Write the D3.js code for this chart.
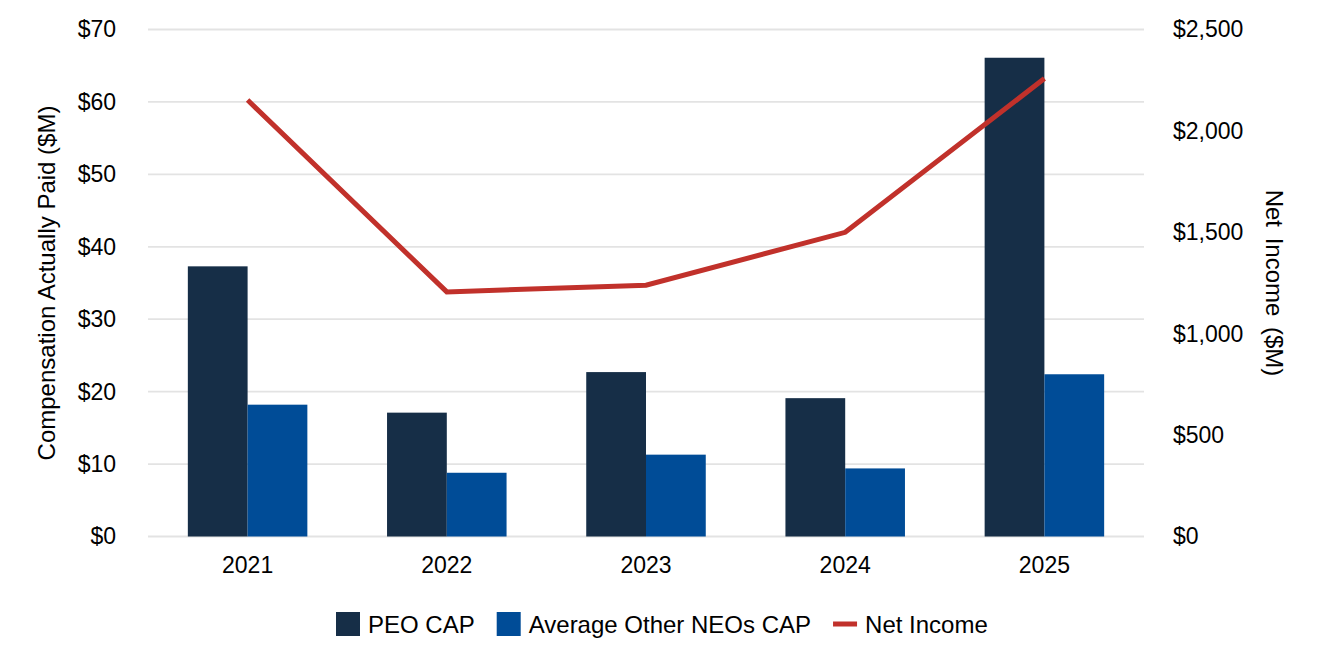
<!DOCTYPE html>
<html>
<head>
<meta charset="utf-8">
<script src="https://cdn.jsdelivr.net/npm/d3@7"></script>
<style>
  html, body { margin: 0; padding: 0; background: #fff; }
  svg text { font-family: "Liberation Sans", Arial, sans-serif; fill: #000; }
</style>
</head>
<body>
<svg id="chart" width="1324" height="672"></svg>
<script>
// ---- data ----
const years = ["2021", "2022", "2023", "2024", "2025"];
const peoCap = [37.3, 17.1, 22.7, 19.1, 66.1];
const neoCap = [18.2, 8.8, 11.3, 9.4, 22.4];
const netIncome = [2152, 1206, 1239, 1500, 2258];
const leftTicks = [0, 10, 20, 30, 40, 50, 60, 70];
const rightTicks = [0, 500, 1000, 1500, 2000, 2500];
const seriesNames = ["PEO CAP", "Average Other NEOs CAP", "Net Income"];
const seriesColors = ["#162E47", "#004C97", "#C1312B"];

// ---- layout ----
const svg = d3.select("#chart");
const plot = { left: 148, right: 1144, top: 29.5, bottom: 536.5 };
const FS = 23;

const x0 = d3.scaleBand().domain(years).range([plot.left, plot.right])
  .paddingInner(0.4).paddingOuter(0.2);
const x1 = d3.scaleBand().domain(["peo", "neo"]).range([0, x0.bandwidth()]);
const yL = d3.scaleLinear().domain([0, 70]).range([plot.bottom, plot.top]);
const yR = d3.scaleLinear().domain([0, 2500]).range([plot.bottom, plot.top]);

// gridlines
svg.append("g").selectAll("line").data(leftTicks).join("line")
  .attr("x1", plot.left).attr("x2", plot.right)
  .attr("y1", d => yL(d)).attr("y2", d => yL(d))
  .attr("stroke", "#e3e3e3").attr("stroke-width", 1.8);

// left axis
const leftAxis = svg.append("g").attr("transform", `translate(${plot.left - 32},0)`)
  .call(d3.axisLeft(yL).tickValues(leftTicks).tickFormat(d => "$" + d).tickSize(0).tickPadding(0));
leftAxis.select(".domain").remove();
leftAxis.selectAll("text").style("font-size", FS + "px").attr("fill", "#000")
  .style("font-family", '"Liberation Sans", Arial, sans-serif');

// right axis
const rightAxis = svg.append("g").attr("transform", `translate(${plot.right + 29},0)`)
  .call(d3.axisRight(yR).tickValues(rightTicks).tickFormat(d => "$" + d3.format(",")(d)).tickSize(0).tickPadding(0));
rightAxis.select(".domain").remove();
rightAxis.selectAll("text").style("font-size", FS + "px").attr("fill", "#000")
  .style("font-family", '"Liberation Sans", Arial, sans-serif');

// bottom axis
const bottomAxis = svg.append("g").attr("transform", `translate(0,${plot.bottom + 20})`)
  .call(d3.axisBottom(x0).tickSize(0).tickPadding(0));
bottomAxis.select(".domain").remove();
bottomAxis.selectAll("text").style("font-size", FS + "px").attr("fill", "#000")
  .style("font-family", '"Liberation Sans", Arial, sans-serif');

// bars
const groups = svg.append("g").selectAll("g").data(years).join("g")
  .attr("transform", d => `translate(${x0(d)},0)`);
groups.append("rect")
  .attr("x", x1("peo")).attr("width", x1.bandwidth())
  .attr("y", (d, i) => yL(peoCap[i])).attr("height", (d, i) => yL(0) - yL(peoCap[i]))
  .attr("fill", seriesColors[0]);
groups.append("rect")
  .attr("x", x1("neo")).attr("width", x1.bandwidth())
  .attr("y", (d, i) => yL(neoCap[i])).attr("height", (d, i) => yL(0) - yL(neoCap[i]))
  .attr("fill", seriesColors[1]);

// line
const line = d3.line()
  .x((d, i) => x0(years[i]) + x0.bandwidth() / 2)
  .y(d => yR(d));
svg.append("path").datum(netIncome)
  .attr("d", line).attr("fill", "none")
  .attr("stroke", seriesColors[2]).attr("stroke-width", 5)
  .attr("stroke-linejoin", "miter").attr("stroke-linecap", "butt");

// axis titles
svg.append("text")
  .attr("transform", `translate(55,${(plot.top + plot.bottom) / 2}) rotate(-90)`)
  .attr("text-anchor", "middle").style("font-size", "24px")
  .text("Compensation Actually Paid ($M)");
svg.append("text")
  .attr("transform", `translate(1266,${(plot.top + plot.bottom) / 2}) rotate(90)`)
  .attr("text-anchor", "middle").style("font-size", "24px")
  .style("word-spacing", "4px")
  .text("Net Income ($M)");

// legend
const legend = svg.append("g");
let lx = 336;
const ly = 624;
seriesNames.forEach((name, i) => {
  if (i < 2) {
    legend.append("rect").attr("x", lx).attr("y", ly - 12).attr("width", 24).attr("height", 24)
      .attr("fill", seriesColors[i]);
  } else {
    legend.append("rect").attr("x", lx).attr("y", ly - 2.5).attr("width", 24).attr("height", 5)
      .attr("fill", seriesColors[i]);
  }
  const t = legend.append("text").attr("x", lx + 32).attr("y", ly + 8.5)
    .style("font-size", "24px").text(name);
  lx = lx + 32 + t.node().getComputedTextLength() + 22;
});
</script>
</body>
</html>
